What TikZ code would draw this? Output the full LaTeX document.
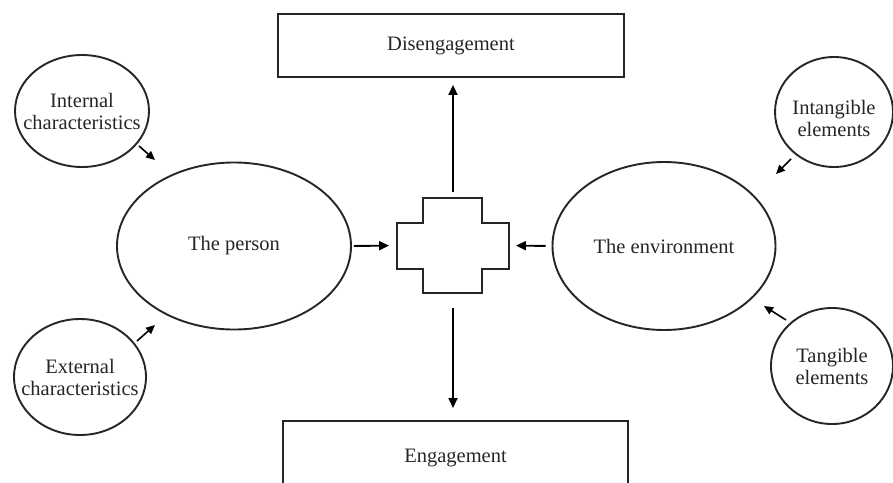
\documentclass[tikz,border=0pt]{standalone}
\usepackage{fontspec}
\setmainfont{Liberation Serif}
\usetikzlibrary{shapes.geometric,arrows.meta}
\begin{document}
\begin{tikzpicture}[x=1pt,y=-1pt,
  line width=1.9pt,
  txt/.style={font=\fontsize{20.5}{22}\selectfont, align=center, text=black!85},
  oval/.style={draw=black!85, ellipse, inner sep=0pt},
  boxnode/.style={draw=black!85, rectangle, inner sep=0pt, font=\fontsize{20.5}{22}\selectfont, text=black!85},
  arr/.style={draw=black, -{Triangle[length=10pt,width=9pt]}},
  sarr/.style={draw=black, line width=1.6pt, -{Triangle[length=9pt,width=8pt]}},
  crossline/.style={draw=black!85, line width=1.8pt},
]
\clip (0,0) rectangle (893,482);
\fill[white] (0,0) rectangle (893,482);

% boxes
\node[boxnode, minimum width=346pt, minimum height=63pt] (dis) at (451,45.5) {Disengagement};
\node[boxnode, anchor=north, minimum width=345pt, inner ysep=28pt, text height=14pt, text depth=5pt] (eng) at (455.5,420) {Engagement};

% main ellipses
\node[oval, minimum width=234pt, minimum height=167pt, label={[txt]center:The person}] (person) at (234,246) {};
\node[oval, minimum width=223pt, minimum height=168pt, label={[txt]center:The environment}] (env) at (664,246) {};

% small circles
\node[oval, minimum width=134pt, minimum height=112pt, label={[txt]center:Internal\\characteristics}] (int) at (82,111) {};
\node[oval, minimum width=132pt, minimum height=116pt, label={[txt]center:External\\characteristics}] (ext) at (80,377) {};
\node[oval, minimum width=118pt, minimum height=110pt, label={[txt, yshift=-6pt]center:Intangible\\elements}] (intg) at (834,112) {};
\node[oval, minimum width=122pt, minimum height=116pt, label={[txt]center:Tangible\\elements}] (tang) at (832,366) {};

% cross
\node[minimum width=112pt, minimum height=95pt, inner sep=0pt] (cross) at (453,245.5) {};
\draw[crossline] (397,223) -- (423,223) -- (423,198) -- (482,198) -- (482,223) -- (509,223)
  -- (509,269) -- (482,269) -- (482,293) -- (423,293) -- (423,269) -- (397,269) -- cycle;

% main arrows
\draw[arr, shorten <=2pt, shorten >=7pt] (person.east) -- (cross.west);
\draw[arr, shorten <=6pt, shorten >=6pt] (env.west) -- (cross.east);
\draw[arr, shorten <=5pt, shorten >=7pt] (cross.north) -- (cross.north |- dis.south);
\draw[arr, shorten <=14pt, shorten >=12pt] (cross.south) -- (cross.south |- eng.north);

% small arrows
\coordinate (a1s) at (139,146); \coordinate (a1e) at (155,160);
\coordinate (a2s) at (137,341); \coordinate (a2e) at (155,325);
\coordinate (a3s) at (791,159); \coordinate (a3e) at (776,174);
\coordinate (a4s) at (786,320); \coordinate (a4e) at (764,306);
\draw[sarr] (a1s) -- (a1e);
\draw[sarr] (a2s) -- (a2e);
\draw[sarr] (a3s) -- (a3e);
\draw[sarr] (a4s) -- (a4e);
\end{tikzpicture}
\end{document}
